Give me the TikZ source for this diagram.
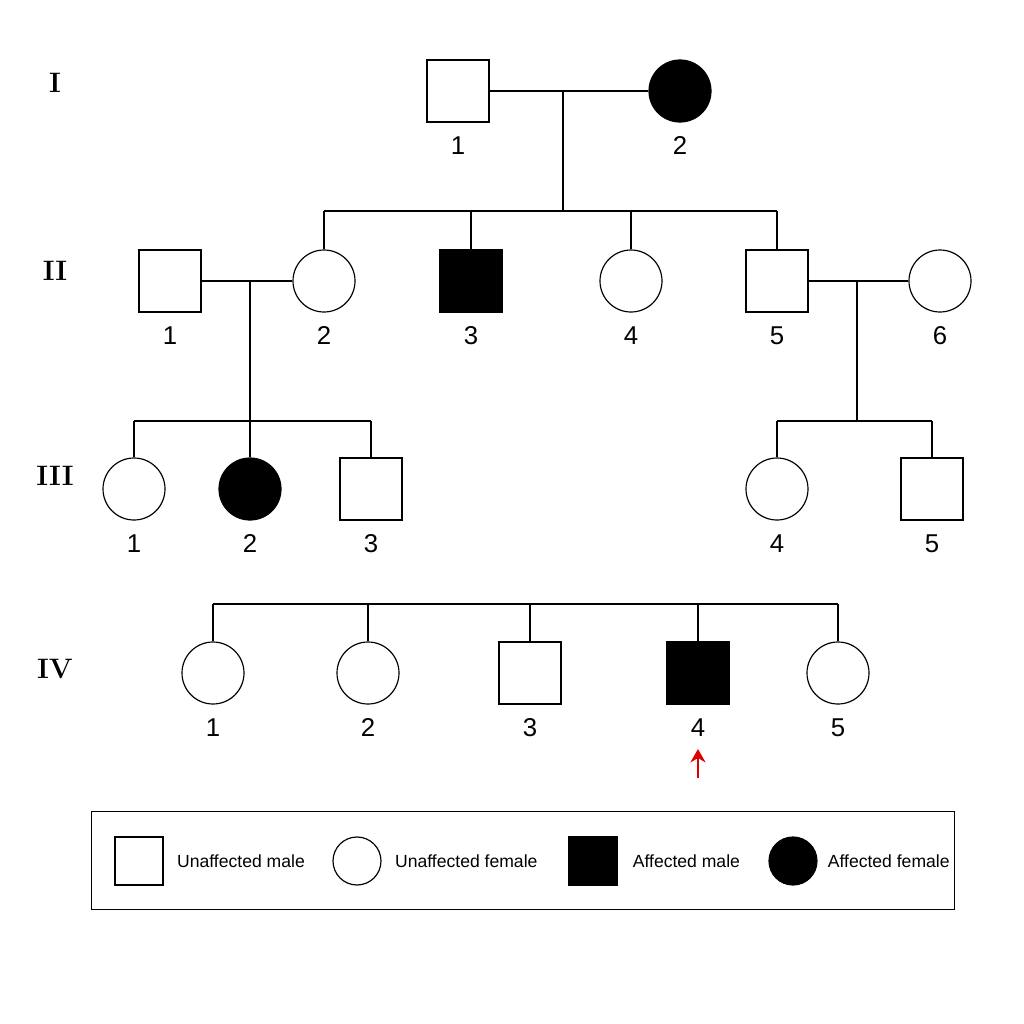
\documentclass[tikz,border=0pt]{standalone}
\usepackage{fontspec}
\setsansfont{Liberation Sans}
\usetikzlibrary{positioning,arrows.meta}
\tikzset{
  male/.style={draw, line width=1pt, minimum size=1.86cm, inner sep=0pt, fill=white},
  female/.style={male, circle},
  hit/.style={fill=black},
  num/.style={font=\sffamily\fontsize{22}{22}\selectfont},
  gen/.style={font=\rmfamily\bfseries\fontsize{24}{24}\selectfont},
  lgd/.style={font=\sffamily\fontsize{15}{15}\selectfont, anchor=west, inner sep=0pt},
  line/.style={line width=1pt},
}
\begin{document}
\begin{tikzpicture}[x=0.03cm,y=-0.03cm]
\useasboundingbox (0,0) rectangle (1024,1024);
% generation labels
\node[gen] (gI) at (55,83) {I};
\node[gen] (gII) at (55,271) {II};
\node[gen] (gIII) at (55,476) {III};
\node[gen] (gIV) at (55,669) {IV};

% generation I
\node[male] (I1) at (458,91) {};
\node[female,hit] (I2) at (680,91) {};
\node[num, below=0.3cm of I1] {1};
\node[num, below=0.3cm of I2] {2};
\coordinate (mI) at (563,91);
\coordinate (sI) at (563,211);
\draw[line] (I1) -- (I2);
\draw[line] (mI) -- (sI);

% generation II
\node[male] (II1) at (170,281) {};
\node[female] (II2) at (324,281) {};
\node[male,hit] (II3) at (471,281) {};
\node[female] (II4) at (631,281) {};
\node[male] (II5) at (777,281) {};
\node[female] (II6) at (940,281) {};
\foreach \n in {1,...,6}
  \node[num, below=0.3cm of II\n] {\n};
\draw[line] (II2.north |- sI) -- (II5.north |- sI);
\foreach \n in {2,3,4,5}
  \draw[line] (II\n.north |- sI) -- (II\n.north);
\draw[line] (II1) -- (II2);
\draw[line] (II5) -- (II6);
\coordinate (mII) at (250,281);
\coordinate (sII) at (250,421);
\coordinate (mIIb) at (857,281);
\coordinate (sIIb) at (857,421);
\draw[line] (mII) -- (sII);
\draw[line] (mIIb) -- (sIIb);

% generation III
\node[female] (III1) at (134,489) {};
\node[female,hit] (III2) at (250,489) {};
\node[male] (III3) at (371,489) {};
\node[female] (III4) at (777,489) {};
\node[male] (III5) at (932,489) {};
\foreach \n in {1,...,5}
  \node[num, below=0.3cm of III\n] {\n};
\draw[line] (III1.north |- sII) -- (III3.north |- sII);
\draw[line] (III4.north |- sIIb) -- (III5.north |- sIIb);
\foreach \n in {1,2,3}
  \draw[line] (III\n.north |- sII) -- (III\n.north);
\foreach \n in {4,5}
  \draw[line] (III\n.north |- sIIb) -- (III\n.north);

% generation IV
\node[female] (IV1) at (213,673) {};
\node[female] (IV2) at (368,673) {};
\node[male] (IV3) at (530,673) {};
\node[male,hit] (IV4) at (698,673) {};
\node[female] (IV5) at (838,673) {};
\foreach \n in {1,...,5}
  \node[num, below=0.3cm of IV\n] (nIV\n) {\n};
\coordinate (sIV) at (0,604);
\draw[line] (IV1.north |- sIV) -- (IV5.north |- sIV);
\foreach \n in {1,...,5}
  \draw[line] (IV\n.north |- sIV) -- (IV\n.north);
% proband
\coordinate (pr) at (698,778);
\draw[line width=2.2pt, red!85!black, -{Stealth[length=4mm,width=4.5mm]}] (pr) -- ++(0,-29);

% legend
\node[draw, line width=1pt, minimum width=25.9cm, minimum height=2.95cm] (key) at (523,860.5) {};
\node[male, minimum size=1.44cm] (k1) at (139,861) {};
\node[lgd, right=0.4cm of k1] {Unaffected male};
\node[female, minimum size=1.44cm] (k2) at (357,861) {};
\node[lgd, right=0.4cm of k2] {Unaffected female};
\node[male, hit, minimum size=1.44cm] (k3) at (593,861) {};
\node[lgd, right=0.45cm of k3] {Affected male};
\node[female, hit, minimum size=1.44cm] (k4) at (793,861) {};
\node[lgd, right=0.3cm of k4] {Affected female};
\end{tikzpicture}
\end{document}
